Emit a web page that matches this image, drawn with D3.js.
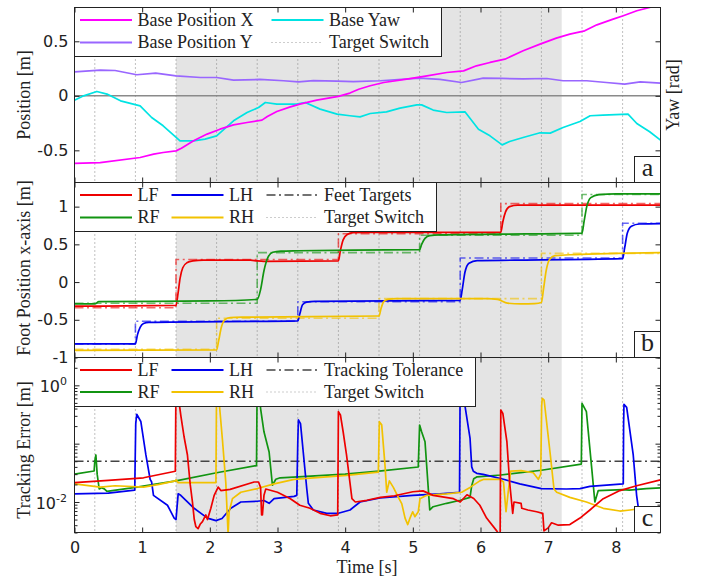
<!DOCTYPE html>
<html>
<head>
<meta charset="utf-8">
<script src="https://cdn.jsdelivr.net/npm/d3@7/dist/d3.min.js"></script>
<style>
  body { margin: 0; background: #fff; }
</style>
</head>
<body>
<svg id="chart" width="704" height="579"></svg>
<script>
// ---------- data ----------
const tMax = 8.66;
const switchTimes = [0.3, 0.9, 1.5, 2.1, 2.7, 3.3, 3.9, 4.5, 5.1, 5.7, 6.3, 6.9, 7.5, 8.1];
const shadedSpan = [1.5, 7.2];
const timeTicks = [0, 1, 2, 3, 4, 5, 6, 7, 8];
const posTicks = [-0.5, 0, 0.5];
const footTicks = [-1, -0.5, 0, 0.5, 1];
const errMajorTicks = [0.01, 0.1, 1];
const errLabels = [{v: 1, exp: "0"}, {v: 0.01, exp: "-2"}];
const tolerance = 0.05;

// panel a : base motion [t, value]
const baseX = [[0,-0.62],[0.38,-0.612],[0.97,-0.566],[1.17,-0.535],[1.31,-0.52],[1.5,-0.505],[1.58,-0.48],[1.76,-0.413],[1.96,-0.351],[2.15,-0.306],[2.35,-0.266],[2.55,-0.245],[2.77,-0.223],[2.85,-0.19],[2.99,-0.144],[3.19,-0.101],[3.33,-0.076],[3.58,-0.04],[3.9,-0.005],[4.07,0.025],[4.2,0.06],[4.37,0.092],[4.57,0.122],[4.91,0.153],[5.21,0.183],[5.5,0.214],[5.75,0.229],[5.94,0.275],[6.14,0.306],[6.36,0.336],[6.63,0.413],[6.88,0.474],[7.12,0.529],[7.32,0.566],[7.54,0.596],[7.72,0.651],[7.96,0.703],[8.11,0.734],[8.31,0.78],[8.5,0.81],[8.66,0.84]];
const baseY = [[0,0.22],[0.38,0.236],[0.6,0.232],[0.92,0.193],[1.2,0.208],[1.5,0.183],[1.86,0.168],[2.1,0.168],[2.35,0.144],[2.74,0.15],[3.09,0.138],[3.31,0.128],[3.53,0.14],[3.88,0.135],[4.12,0.13],[4.52,0.138],[5.1,0.162],[5.4,0.15],[5.72,0.122],[6.04,0.162],[6.31,0.16],[6.63,0.155],[6.98,0.159],[7.22,0.138],[7.57,0.138],[7.86,0.122],[8.13,0.107],[8.36,0.128],[8.66,0.116]];
const baseYaw = [[0,-0.04],[0.135,0],[0.33,0.04],[0.48,0.016],[0.68,-0.046],[0.97,-0.092],[1.14,-0.199],[1.31,-0.275],[1.56,-0.413],[1.76,-0.413],[1.93,-0.397],[2.1,-0.367],[2.35,-0.229],[2.55,-0.153],[2.72,-0.107],[2.82,-0.061],[2.99,-0.076],[3.28,-0.076],[3.41,-0.061],[3.63,-0.122],[3.88,-0.168],[4.07,-0.183],[4.22,-0.193],[4.37,-0.162],[4.61,-0.147],[4.81,-0.113],[5.06,-0.083],[5.13,-0.083],[5.3,-0.131],[5.5,-0.153],[5.77,-0.147],[5.97,-0.306],[6.14,-0.367],[6.32,-0.45],[6.43,-0.419],[6.63,-0.382],[6.88,-0.339],[7.03,-0.342],[7.22,-0.29],[7.47,-0.235],[7.62,-0.183],[7.81,-0.177],[8.18,-0.168],[8.31,-0.254],[8.5,-0.33],[8.66,-0.406]];

// panel b : foot x positions and their targets
const lfPos = [[0,-0.32],[1.5,-0.31],[1.53,-0.15],[1.56,0.05],[1.6,0.19],[1.66,0.255],[1.75,0.28],[1.9,0.29],[2.6,0.29],[2.7,0.28],[2.8,0.275],[3.9,0.28],[3.93,0.42],[3.97,0.56],[4.03,0.63],[4.12,0.655],[4.3,0.66],[6.3,0.66],[6.33,0.8],[6.37,0.93],[6.43,1.0],[6.55,1.02],[8.66,1.02]];
const rfPos = [[0,-0.29],[0.3,-0.29],[0.36,-0.26],[2.0,-0.25],[2.7,-0.23],[2.75,-0.1],[2.8,0.15],[2.86,0.33],[2.93,0.395],[3.05,0.41],[3.3,0.415],[5.1,0.43],[5.13,0.5],[5.18,0.58],[5.25,0.615],[5.4,0.625],[6.3,0.635],[7.5,0.65],[7.53,0.8],[7.57,1.0],[7.63,1.12],[7.75,1.16],[8.0,1.17],[8.66,1.17]];
const lhPos = [[0,-0.82],[0.9,-0.82],[0.93,-0.7],[0.97,-0.6],[1.02,-0.55],[1.1,-0.535],[3.3,-0.515],[3.33,-0.42],[3.37,-0.3],[3.43,-0.265],[3.55,-0.255],[5.7,-0.243],[5.73,-0.1],[5.77,0.13],[5.83,0.25],[5.95,0.285],[6.5,0.29],[8.1,0.31],[8.13,0.45],[8.17,0.65],[8.23,0.74],[8.35,0.77],[8.66,0.775]];
const rhPos = [[0,-0.905],[2.1,-0.9],[2.13,-0.78],[2.17,-0.6],[2.22,-0.5],[2.3,-0.47],[2.5,-0.465],[4.5,-0.45],[4.53,-0.35],[4.57,-0.26],[4.63,-0.23],[4.75,-0.22],[6.1,-0.22],[6.25,-0.23],[6.4,-0.28],[6.6,-0.29],[6.8,-0.285],[6.9,-0.27],[6.93,-0.1],[6.97,0.15],[7.02,0.3],[7.1,0.35],[7.4,0.365],[8.0,0.38],[8.66,0.39]];
const lfTarget = [[0,-0.34],[1.5,0.3],[3.9,0.64],[6.3,1.04],[8.66,1.04]];
const rfTarget = [[0,-0.28],[2.7,0.39],[5.1,0.62],[7.5,1.16],[8.66,1.16]];
const lhTarget = [[0,-0.82],[0.9,-0.52],[3.3,-0.26],[5.7,0.32],[8.1,0.78],[8.66,0.78]];
const rhTarget = [[0,-0.89],[2.1,-0.48],[4.5,-0.22],[6.9,0.38],[8.66,0.38]];

// panel c : tracking error [m]
const lfErr = [[0,0.0215],[0.5,0.0235],[1.02,0.026],[1.49,0.0337],[1.5,1.2],[1.53,0.7],[1.572,0.3],[1.62,0.13],[1.669,0.064],[1.71,0.02],[1.743,0.01],[1.77,0.005],[1.793,0.0038],[1.827,0.0035],[1.86,0.0042],[1.891,0.0046],[1.941,0.006],[1.965,0.005],[2.015,0.0078],[2.064,0.013],[2.123,0.018],[2.163,0.0157],[2.3,0.0165],[2.654,0.022],[2.72,0.022],[2.75,0.0178],[2.765,0.006],[2.777,0.006],[2.8,0.013],[2.827,0.0167],[3.0,0.0147],[3.19,0.0114],[3.33,0.0088],[3.48,0.0078],[3.63,0.0064],[3.78,0.0058],[3.89,0.006],[3.9,0.353],[3.93,0.31],[3.97,0.16],[4.02,0.064],[4.1,0.0114],[4.15,0.01],[4.32,0.0107],[4.52,0.012],[4.73,0.0128],[5.0,0.015],[5.15,0.0155],[5.3,0.013],[5.6,0.0114],[5.7,0.01],[5.8,0.0133],[5.9,0.0115],[5.99,0.0088],[6.09,0.0053],[6.24,0.0032],[6.29,0.0026],[6.3,0.377],[6.33,0.33],[6.39,0.108],[6.43,0.022],[6.476,0.0064],[6.495,0.01],[6.6,0.0095],[6.61,0.0078],[6.7,0.0073],[6.83,0.0068],[6.92,0.0064],[6.938,0.0032],[7.0,0.0036],[7.05,0.0044],[7.15,0.004],[7.32,0.0041],[7.47,0.0053],[7.617,0.0073],[7.814,0.0114],[8.06,0.0157],[8.307,0.019],[8.66,0.024]];
const rfErr = [[0,0.03],[0.29,0.034],[0.3,0.05],[0.316,0.064],[0.335,0.03],[0.365,0.0167],[0.4,0.0175],[0.44,0.0168],[0.48,0.0152],[0.9,0.0178],[1.5,0.023],[2.1,0.0317],[2.69,0.042],[2.7,1.5],[2.73,1.0],[2.75,0.4],[2.8,0.16],[2.876,0.072],[2.925,0.0194],[2.975,0.0245],[3.04,0.026],[3.3,0.027],[4.0,0.03],[4.5,0.0337],[5.08,0.0398],[5.1,0.209],[5.13,0.16],[5.18,0.108],[5.25,0.0073],[5.3,0.0083],[5.5,0.0095],[5.7,0.0107],[5.845,0.012],[5.87,0.019],[5.9,0.025],[5.95,0.027],[6.3,0.029],[6.9,0.035],[7.49,0.0447],[7.5,0.49],[7.565,0.353],[7.64,0.042],[7.69,0.01],[7.74,0.0157],[8.1,0.0163],[8.2,0.016],[8.45,0.017],[8.66,0.0175]];
const lhErr = [[0,0.0138],[0.5,0.0142],[0.89,0.016],[0.905,0.22],[0.92,0.319],[0.98,0.24],[1.055,0.064],[1.118,0.0245],[1.14,0.022],[1.167,0.013],[1.374,0.0088],[1.473,0.0053],[1.5,0.005],[1.532,0.0138],[1.57,0.013],[1.768,0.0078],[1.965,0.0053],[2.09,0.0048],[2.18,0.0052],[2.31,0.0078],[2.458,0.01],[2.7,0.0103],[2.8,0.0106],[2.876,0.0095],[2.95,0.0114],[3.245,0.0125],[3.285,0.013],[3.3,0.11],[3.309,0.255],[3.34,0.22],[3.433,0.0167],[3.456,0.0095],[3.53,0.0073],[3.728,0.0064],[3.9,0.0064],[4.072,0.0073],[4.22,0.01],[4.515,0.0117],[5.0,0.013],[5.4,0.0138],[5.69,0.0147],[5.7,1.5],[5.72,1.2],[5.77,0.45],[5.845,0.125],[5.87,0.04],[5.894,0.0337],[5.944,0.031],[6.04,0.0297],[6.34,0.0245],[6.58,0.0205],[6.9,0.017],[7.27,0.0167],[7.47,0.017],[7.617,0.0185],[8.11,0.0205],[8.115,0.22],[8.12,0.47],[8.16,0.42],[8.257,0.064],[8.307,0.013],[8.33,0.0083],[8.36,0.007]];
const rhErr = [[0,0.0205],[0.38,0.018],[0.6,0.019],[1.02,0.018],[1.25,0.02],[1.49,0.023],[1.5,0.024],[1.532,0.0215],[2.09,0.0215],[2.1,1.2],[2.12,0.9],[2.186,0.118],[2.236,0.0215],[2.27,0.0028],[2.285,0.0068],[2.334,0.0114],[2.458,0.0147],[2.703,0.017],[2.95,0.0205],[3.245,0.0245],[3.53,0.026],[4.02,0.0286],[4.49,0.0324],[4.505,0.238],[4.54,0.21],[4.589,0.042],[4.614,0.0147],[4.653,0.023],[4.712,0.0178],[4.786,0.012],[4.836,0.0094],[4.885,0.0053],[4.925,0.0041],[4.958,0.0053],[4.998,0.0068],[5.03,0.0056],[5.08,0.0068],[5.106,0.0114],[5.205,0.013],[5.501,0.0138],[5.722,0.0147],[5.845,0.0178],[5.99,0.023],[6.05,0.0245],[6.29,0.0245],[6.34,0.022],[6.377,0.0068],[6.41,0.015],[6.446,0.0337],[6.6,0.0345],[6.78,0.0317],[6.854,0.0245],[6.89,0.03],[6.904,0.45],[6.913,0.6],[6.94,0.56],[7.027,0.072],[7.086,0.0167],[7.126,0.0147],[7.32,0.012],[7.565,0.01],[7.814,0.0078],[8.06,0.007],[8.21,0.0073],[8.33,0.0076]];

// ---------- drawing ----------
const sans = "'DejaVu Sans', sans-serif";
const serif = "'Liberation Serif', 'Times New Roman', serif";
const serifSize = 18;
const ink = "#222";
const C = {
  baseX: "#ff00ff", baseY: "#9966ff", yaw: "#00e3e3",
  lf: "#ee0000", rf: "#119411", lh: "#0000ee", rh: "#f2c200"
};

const svg = d3.select("#chart");
const defs = svg.append("defs");
const L = 74.5, R = 660.5;
const x = d3.scaleLinear().domain([0, tMax]).range([L, R]);
const yA = d3.scaleLinear().domain([-0.795, 0.81]).range([182.5, 7.5]);
const yB = d3.scaleLinear().domain([-1, 1.32]).range([357.5, 182.5]);
const yC = d3.scaleLog().domain([0.003, 3]).range([532.5, 357.5]);

function makePanel(id, top, bottom) {
  const g = svg.append("g");
  defs.append("clipPath").attr("id", "clip-" + id)
    .append("rect").attr("x", L).attr("y", top).attr("width", R - L).attr("height", bottom - top);
  g.append("rect")
    .attr("x", x(shadedSpan[0])).attr("y", top)
    .attr("width", x(shadedSpan[1]) - x(shadedSpan[0])).attr("height", bottom - top)
    .attr("fill", "#e4e4e4");
  const plot = g.append("g").attr("clip-path", `url(#clip-${id})`);
  return {g, plot, top, bottom};
}

function switchLines(p) {
  p.plot.selectAll(null).data(switchTimes).join("line")
    .attr("x1", d => x(d)).attr("x2", d => x(d))
    .attr("y1", p.top).attr("y2", p.bottom)
    .attr("stroke", "#808080").attr("stroke-width", 1)
    .attr("stroke-dasharray", "1,3");
}

function drawLine(p, data, y, color, opts = {}) {
  const gen = d3.line().x(d => x(d[0])).y(d => y(d[1]));
  if (opts.curve) gen.curve(opts.curve);
  p.plot.append("path").datum(data)
    .attr("d", gen)
    .attr("fill", "none")
    .attr("stroke", color)
    .attr("stroke-width", opts.width || 1.7)
    .attr("stroke-opacity", opts.opacity || 1)
    .attr("stroke-dasharray", opts.dash || null)
    .attr("stroke-linejoin", "round");
}

function legend(p, box, items) {
  p.g.append("rect")
    .attr("x", box[0]).attr("y", box[1])
    .attr("width", box[2] - box[0]).attr("height", box[3] - box[1])
    .attr("fill", "#fff").attr("stroke", ink).attr("stroke-width", 1);
  items.forEach(it => {
    p.g.append("line")
      .attr("x1", it.x1).attr("x2", it.x1 + 52).attr("y1", it.y).attr("y2", it.y)
      .attr("stroke", it.color).attr("stroke-width", it.width || 2)
      .attr("stroke-dasharray", it.dash || null);
    p.g.append("text")
      .attr("x", it.x1 + 57.5).attr("y", it.y).attr("dy", "0.33em")
      .attr("font-family", serif).attr("font-size", serifSize).attr("fill", ink)
      .text(it.label);
  });
}

function timeAxes(p, withLabels) {
  const top = svg.append("g").attr("transform", `translate(0,${p.top})`)
    .call(d3.axisTop(x).tickValues(timeTicks).tickSize(-5).tickFormat(""));
  const bot = svg.append("g").attr("transform", `translate(0,${p.bottom})`)
    .call(d3.axisBottom(x).tickValues(timeTicks).tickSize(-5).tickPadding(9.5)
      .tickFormat(withLabels ? d => String(d) : ""));
  [top, bot].forEach(a => {
    a.select(".domain").remove();
    a.selectAll("line").attr("stroke", ink);
    a.selectAll("text").attr("font-family", sans).attr("font-size", 16).attr("fill", ink);
  });
}

function valueAxes(p, y, ticks, withLabels) {
  const left = svg.append("g").attr("transform", `translate(${L},0)`)
    .call(d3.axisLeft(y).tickValues(ticks).tickSize(-5).tickPadding(6)
      .tickFormat(withLabels ? d => String(d) : ""));
  const right = svg.append("g").attr("transform", `translate(${R},0)`)
    .call(d3.axisRight(y).tickValues(ticks).tickSize(-5).tickFormat(""));
  [left, right].forEach(a => {
    a.select(".domain").remove();
    a.selectAll("line").attr("stroke", ink);
    a.selectAll("text").attr("font-family", sans).attr("font-size", 16).attr("fill", ink);
  });
}

function frame(p, letter) {
  svg.append("rect").attr("x", L).attr("y", p.top)
    .attr("width", R - L).attr("height", p.bottom - p.top)
    .attr("fill", "none").attr("stroke", ink).attr("stroke-width", 1);
  svg.append("rect").attr("x", 634.5).attr("y", p.bottom - 26)
    .attr("width", R - 634.5).attr("height", 26)
    .attr("fill", "#fff").attr("stroke", ink).attr("stroke-width", 1);
  svg.append("text").attr("x", 647.5).attr("y", p.bottom - 7)
    .attr("text-anchor", "middle").attr("font-family", serif).attr("font-size", 26)
    .attr("fill", ink).text(letter);
}

function yLabel(text, cx, cy) {
  svg.append("text")
    .attr("transform", `translate(${cx},${cy}) rotate(-90)`)
    .attr("text-anchor", "middle")
    .attr("font-family", serif).attr("font-size", serifSize).attr("fill", ink)
    .text(text);
}

const dashDot = "9,3.5,2,3.5";
const col1 = 80, col2 = 271.5, colB2 = 171.5, colB3 = 266.5;

// ----- panel a -----
const pa = makePanel("a", 7.5, 182.5);
pa.plot.append("line").attr("x1", L).attr("x2", R).attr("y1", yA(0)).attr("y2", yA(0))
  .attr("stroke", "#8a8a8a").attr("stroke-width", 1.6);
switchLines(pa);
drawLine(pa, baseY, yA, C.baseY);
drawLine(pa, baseYaw, yA, C.yaw);
drawLine(pa, baseX, yA, C.baseX);
legend(pa, [L, 7.5, 441.5, 56.5], [
  {x1: col1, y: 20, color: C.baseX, label: "Base Position X"},
  {x1: col1, y: 42.5, color: C.baseY, label: "Base Position Y"},
  {x1: col2, y: 20, color: C.yaw, label: "Base Yaw"},
  {x1: col2, y: 42.5, color: "#9a9a9a", width: 1, dash: "1,3", label: "Target Switch"}
]);
valueAxes(pa, yA, posTicks, true);
timeAxes(pa, false);
frame(pa, "a");

// ----- panel b -----
const pb = makePanel("b", 182.5, 357.5);
switchLines(pb);
[[lfTarget, C.lf], [rfTarget, C.rf], [lhTarget, C.lh], [rhTarget, C.rh]].forEach(([d, c]) =>
  drawLine(pb, d, yB, c, {curve: d3.curveStepAfter, dash: dashDot, opacity: 0.6, width: 1.6}));
[[lfPos, C.lf], [rfPos, C.rf], [lhPos, C.lh], [rhPos, C.rh]].forEach(([d, c]) =>
  drawLine(pb, d, yB, c, {curve: d3.curveMonotoneX}));
legend(pb, [L, 182.5, 436.5, 231.5], [
  {x1: col1, y: 195, color: C.lf, label: "LF"},
  {x1: col1, y: 217.5, color: C.rf, label: "RF"},
  {x1: colB2, y: 195, color: C.lh, label: "LH"},
  {x1: colB2, y: 217.5, color: C.rh, label: "RH"},
  {x1: colB3, y: 195, color: "#444", width: 1.6, dash: dashDot, label: "Feet Targets"},
  {x1: colB3, y: 217.5, color: "#9a9a9a", width: 1, dash: "1,3", label: "Target Switch"}
]);
valueAxes(pb, yB, footTicks, true);
timeAxes(pb, false);
frame(pb, "b");

// ----- panel c -----
const pc = makePanel("c", 357.5, 532.5);
switchLines(pc);
pc.plot.append("line").attr("x1", L).attr("x2", R).attr("y1", yC(tolerance)).attr("y2", yC(tolerance))
  .attr("stroke", "#444").attr("stroke-width", 1.6).attr("stroke-dasharray", dashDot);
drawLine(pc, rfErr, yC, C.rf);
drawLine(pc, lhErr, yC, C.lh);
drawLine(pc, rhErr, yC, C.rh);
drawLine(pc, lfErr, yC, C.lf);
legend(pc, [L, 357.5, 475.5, 406.5], [
  {x1: col1, y: 370, color: C.lf, label: "LF"},
  {x1: col1, y: 392, color: C.rf, label: "RF"},
  {x1: colB2, y: 370, color: C.lh, label: "LH"},
  {x1: colB2, y: 392, color: C.rh, label: "RH"},
  {x1: colB3, y: 370, color: "#444", width: 1.6, dash: dashDot, label: "Tracking Tolerance"},
  {x1: colB3, y: 392, color: "#9a9a9a", width: 1, dash: "1,3", label: "Target Switch"}
]);
const minorTicks = yC.ticks().filter(v => !errMajorTicks.some(m => Math.abs(m - v) < 1e-9));
[[errMajorTicks, -5], [minorTicks, -3]].forEach(([tv, size]) => {
  const l = svg.append("g").attr("transform", `translate(${L},0)`)
    .call(d3.axisLeft(yC).tickValues(tv).tickSize(size).tickFormat(""));
  const r = svg.append("g").attr("transform", `translate(${R},0)`)
    .call(d3.axisRight(yC).tickValues(tv).tickSize(size).tickFormat(""));
  [l, r].forEach(a => { a.select(".domain").remove(); a.selectAll("line").attr("stroke", ink); });
});
errLabels.forEach(t => {
  const txt = svg.append("text")
    .attr("x", L - 7.5).attr("y", yC(t.v) + 7)
    .attr("text-anchor", "end")
    .attr("font-family", sans).attr("font-size", 16).attr("fill", ink);
  txt.append("tspan").text("10");
  txt.append("tspan").attr("dy", -7).attr("font-size", 11).text(t.exp);
});
timeAxes(pc, true);
frame(pc, "c");

// ----- axis titles -----
yLabel("Position [m]", 29.5, 95);
yLabel("Foot Position x-axis [m]", 29.5, 268);
yLabel("Tracking Error [m]", 29.5, 450);
yLabel("Yaw [rad]", 678.5, 95);
svg.append("text").attr("x", 367).attr("y", 573)
  .attr("text-anchor", "middle").attr("font-family", serif).attr("font-size", serifSize)
  .attr("fill", ink).text("Time [s]");
</script>
</body>
</html>
